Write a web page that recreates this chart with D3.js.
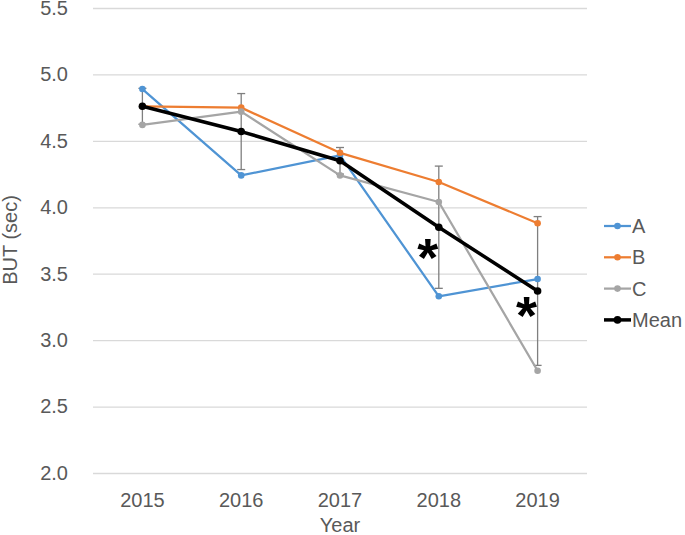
<!DOCTYPE html>
<html><head><meta charset="utf-8">
<script src="https://cdn.jsdelivr.net/npm/d3@7"></script>
<style>body{margin:0;background:#fff;} svg{display:block;} text{font-family:"Liberation Sans",Arial,sans-serif;}</style>
</head><body>
<svg id="c" width="685" height="535"></svg>
<script>
const years = ["2015","2016","2017","2018","2019"];
const seriesA = [4.89, 4.24, 4.39, 3.33, 3.46];
const seriesB = [4.76, 4.75, 4.41, 4.19, 3.88];
const seriesC = [4.62, 4.72, 4.24, 4.04, 2.77];
const seriesMean = [4.76, 4.57, 4.35, 3.85, 3.37];
const meanErr = [0.135, 0.286, 0.10, 0.46, 0.56];
const yTicks = [2.0, 2.5, 3.0, 3.5, 4.0, 4.5, 5.0, 5.5];
const seriesNames = ["A","B","C","Mean"];
const seriesColors = ["#4F94D4","#ED7D31","#A5A5A5","#000000"];
const asterisks = [{year:"2018", v:3.68},{year:"2019", v:3.24}];

const svg = d3.select("#c");
const x = d3.scaleBand().domain(years).range([93,587]);
const xc = d => x(d) + x.bandwidth()/2;
const y = d3.scaleLinear().domain([2,5.5]).range([473,8]);

// gridlines
const yAxis = d3.axisLeft(y).tickValues(yTicks).tickFormat(d3.format(".1f")).tickSize(-(587-93)).tickPadding(25);
const ga = svg.append("g").attr("transform","translate(93,0)").call(yAxis);
ga.select(".domain").remove();
ga.selectAll(".tick line").attr("stroke","#d9d9d9").attr("stroke-width",1.3);
ga.selectAll(".tick text").attr("fill","#595959").attr("font-size",20);

const xAxis = d3.axisBottom(x).tickSize(0).tickPadding(20);
const gx = svg.append("g").attr("transform","translate(0,473)").call(xAxis);
gx.select(".domain").remove();
gx.selectAll(".tick text").attr("fill","#595959").attr("font-size",20);

svg.append("text").attr("x",340).attr("y",532).attr("text-anchor","middle")
  .attr("fill","#595959").attr("font-size",20).text("Year");
svg.append("text").attr("transform","translate(17,240) rotate(-90)").attr("text-anchor","middle")
  .attr("fill","#595959").attr("font-size",20).text("BUT (sec)");

// error bars
const eb = svg.append("g").attr("stroke","#7f7f7f").attr("stroke-width",1.3);
years.forEach((yr,i)=>{
  const cx = xc(yr), t = y(seriesMean[i]+meanErr[i]), b = y(seriesMean[i]-meanErr[i]);
  eb.append("line").attr("x1",cx).attr("x2",cx).attr("y1",t).attr("y2",b);
  eb.append("line").attr("x1",cx-4).attr("x2",cx+4).attr("y1",t).attr("y2",t);
  eb.append("line").attr("x1",cx-4).attr("x2",cx+4).attr("y1",b).attr("y2",b);
});

const allSeries = [seriesA, seriesB, seriesC, seriesMean];
const line = d3.line().x((d,i)=>xc(years[i])).y(d=>y(d));
allSeries.forEach((s,k)=>{
  const w = k===3 ? 3.5 : 2.25;
  svg.append("path").datum(s).attr("d",line).attr("fill","none")
    .attr("stroke",seriesColors[k]).attr("stroke-width",w).attr("stroke-linejoin","round");
  svg.append("g").selectAll("circle").data(s).join("circle")
    .attr("cx",(d,i)=>xc(years[i])).attr("cy",d=>y(d)).attr("r",k===3?3.8:3.3)
    .attr("fill",seriesColors[k]);
});

// asterisks
svg.append("g").selectAll("text").data(asterisks).join("text")
  .attr("x",d=>xc(d.year)-11).attr("y",d=>y(d.v)+26).attr("text-anchor","middle")
  .attr("font-size",54).attr("font-weight","bold").attr("fill","#000").text("*");

// legend
const lg = svg.append("g");
seriesNames.forEach((n,k)=>{
  const ly = 226 + k*31.3;
  lg.append("line").attr("x1",604).attr("x2",631).attr("y1",ly).attr("y2",ly)
    .attr("stroke",seriesColors[k]).attr("stroke-width",k===3?3.5:2.25);
  lg.append("circle").attr("cx",617.5).attr("cy",ly).attr("r",k===3?3.8:3.3).attr("fill",seriesColors[k]);
  lg.append("text").attr("x",632).attr("y",ly+7).attr("font-size",20).attr("fill","#595959").text(n);
});
</script>
</body></html>
